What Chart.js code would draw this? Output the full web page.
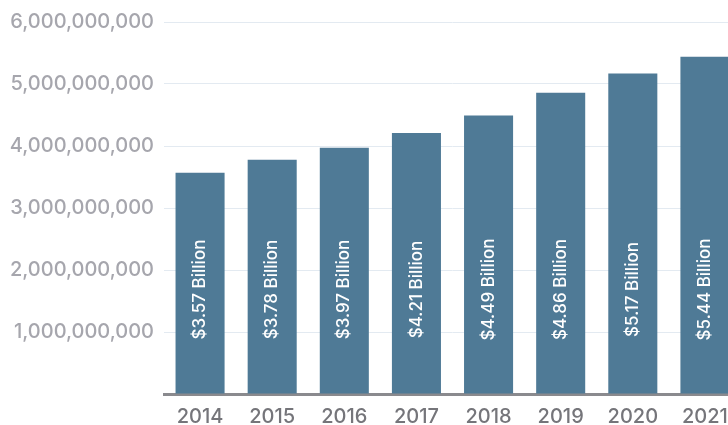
<!DOCTYPE html>
<html>
<head>
<meta charset="utf-8">
<script src="https://cdn.jsdelivr.net/npm/chart.js@4"></script>
<style>
html, body { margin: 0; padding: 0; overflow: hidden; background: #fff; }
#wrap { width: 741px; height: 425px; }
</style>
</head>
<body>
<div id="wrap"><canvas id="spendChart"></canvas></div>
<script>
var years = ['2014', '2015', '2016', '2017', '2018', '2019', '2020', '2021'];
var spending = [3.57e9, 3.78e9, 3.97e9, 4.21e9, 4.49e9, 4.86e9, 5.17e9, 5.44e9];
var yTicks = [0, 1e9, 2e9, 3e9, 4e9, 5e9, 6e9];

var fontName = 'Inter, "Open Sans", sans-serif';

// white rotated labels inside each bar
var barLabels = {
    id: 'barLabels',
    afterDatasetsDraw: function(chart) {
        var ctx = chart.ctx;
        var meta = chart.getDatasetMeta(0);
        ctx.save();
        ctx.fillStyle = '#ffffff';
        ctx.font = '500 17px ' + fontName;
        ctx.textAlign = 'center';
        ctx.textBaseline = 'middle';
        meta.data.forEach(function(bar, i) {
            var txt = '$' + (spending[i] / 1e9).toFixed(2) + ' Billion';
            ctx.save();
            ctx.translate(bar.x, bar.base - 104);
            ctx.rotate(-Math.PI / 2);
            ctx.fillText(txt, 0, 0);
            ctx.restore();
        });
        ctx.restore();
    }
};

function createChart(){
    var ctx = document.getElementById('spendChart').getContext('2d');
    new Chart(ctx, {
        type: 'bar',
        data: {
            labels: years,
            datasets: [{
                data: spending,
                backgroundColor: '#4f7a96',
                borderWidth: 0,
                barPercentage: 0.68,
                categoryPercentage: 1
            }]
        },
        options: {
            responsive: true,
            maintainAspectRatio: false,
            animation: false,
            layout: { padding: { top: 21, right: 0, left: 0, bottom: 0 } },
            plugins: { legend: { display: false }, tooltip: { enabled: false } },
            scales: {
                x: {
                    grid: { display: false },
                    border: { display: true, color: '#8a8a8e', width: 3 },
                    ticks: {
                        color: '#75757a',
                        padding: 3,
                        maxRotation: 0,
                        font: { family: fontName, size: 20, weight: '500' }
                    },
                    afterFit: function(scale) { scale.height = 31; }
                },
                y: {
                    min: 0,
                    max: 6e9,
                    afterBuildTicks: function(scale) {
                        scale.ticks = yTicks.map(function(v) { return { value: v }; });
                    },
                    grid: { color: '#e3eaf1', lineWidth: 1, drawTicks: false },
                    border: { display: false },
                    ticks: {
                        color: '#a6a6ad',
                        padding: 10,
                        font: { family: fontName, size: 20, weight: '500' },
                        callback: function(v) { return v === 0 ? '' : v.toLocaleString('en-US'); }
                    },
                    afterFit: function(scale) { scale.width = 164; }
                }
            }
        },
        plugins: [barLabels]
    });
}

createChart();
</script>
</body>
</html>
